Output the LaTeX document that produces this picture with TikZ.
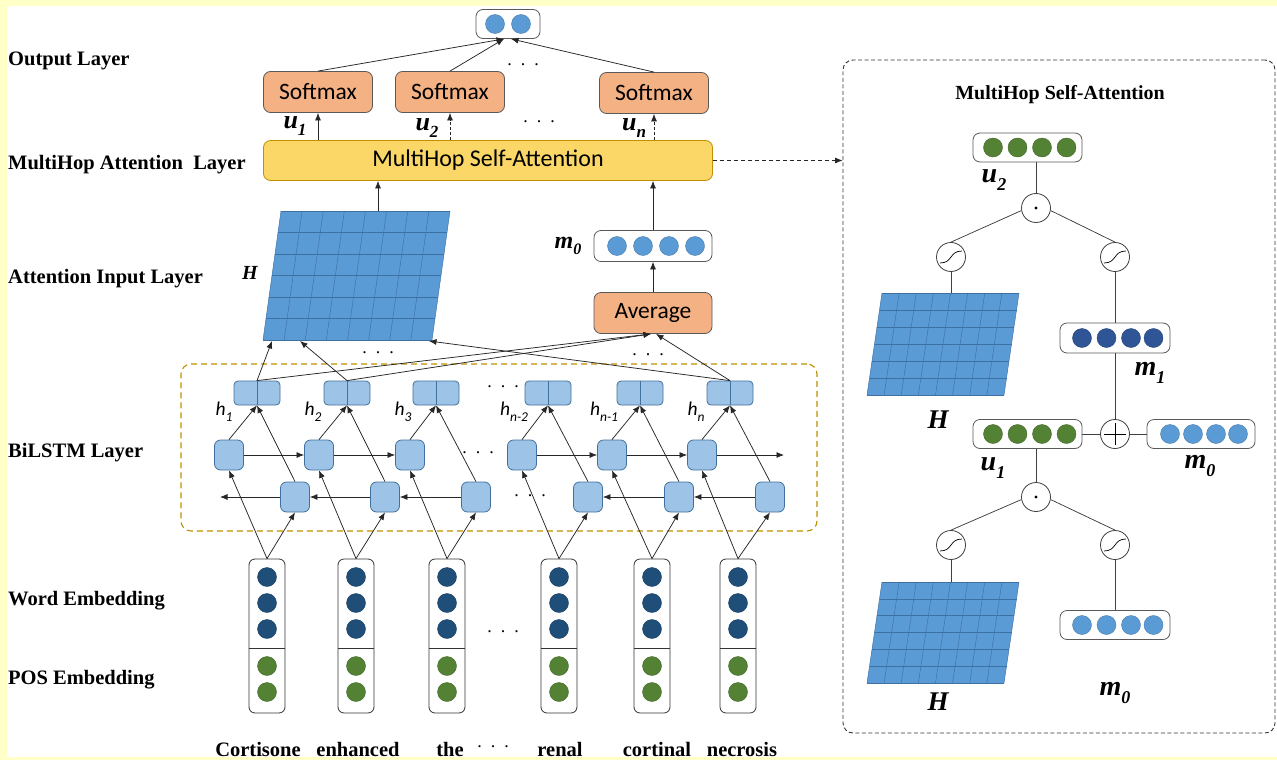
\documentclass[tikz,border=0pt]{standalone}
\usepackage{fontspec}
\setmainfont{Liberation Serif}
\newfontfamily\calfont{Carlito}
\usetikzlibrary{arrows.meta,calc}

\definecolor{bgyellow}{HTML}{FFFFC8}
\definecolor{boxline}{HTML}{595959}
\definecolor{softfill}{HTML}{F4B183}
\definecolor{attfill}{HTML}{FAD766}
\definecolor{attline}{HTML}{BF9000}
\definecolor{cellfill}{HTML}{9DC3E6}
\definecolor{cellline}{HTML}{41719C}
\definecolor{matfill}{HTML}{5B9BD5}
\definecolor{matline}{HTML}{3D70A3}
\definecolor{dotblue}{HTML}{5B9BD5}
\definecolor{darkblue}{HTML}{1F4E79}
\definecolor{midblue}{HTML}{2F5597}
\definecolor{leafgreen}{HTML}{548235}

% bold italic symbol with a subscript: base, subscript, size, subscript size
\newcommand\symlab[4]{{\fontsize{#3}{#3}\selectfont\bfseries\itshape #1\raisebox{-0.28em}{\fontsize{#4}{#4}\selectfont #2}}}
% hidden state label h_k
\newcommand\hlab[1]{{\calfont\itshape\fontsize{19.5}{19.5}\selectfont h\raisebox{-0.3em}{\fontsize{13.5}{13.5}\selectfont #1}}}

% slanted 8x6 grid: top-left x, top-left y, width, height, skew
\newcommand\gridmat[5]{%
  \fill[matfill] (#1,#2) -- (#1+#3,#2) -- (#1+#3-#5,#2+#4) -- (#1-#5,#2+#4) -- cycle;
  \foreach \i in {0,...,8}
    \draw[matline, line width=0.45pt] (#1+\i*#3/8,#2) -- (#1+\i*#3/8-#5,#2+#4);
  \foreach \j in {0,...,6}
    \draw[matline, line width=0.45pt] (#1-\j*#5/6,#2+\j*#4/6) -- (#1+#3-\j*#5/6,#2+\j*#4/6);
}

\begin{document}
\begin{tikzpicture}[x=1pt,y=-1pt,
  arr/.style={draw=black!85, line width=0.75pt, -{Latex[length=7.5pt,width=6pt]}},
  link/.style={draw=black!75, line width=0.75pt},
  layerlab/.style={anchor=west, inner sep=0pt, font=\bfseries\fontsize{20.5}{24}\selectfont},
  word/.style={inner sep=0pt, font=\bfseries\fontsize{20.5}{24}\selectfont},
  dots/.style={inner sep=0pt, font=\fontsize{18}{18}\selectfont},
  opbox/.style={draw=boxline, fill=softfill, rounded corners=7pt, line width=0.8pt,
    minimum width=109pt, minimum height=41pt, font=\calfont\fontsize{23.5}{26}\selectfont},
  attbox/.style={draw=attline, fill=attfill, rounded corners=7pt, line width=0.8pt,
    minimum width=449pt, minimum height=40pt, font=\calfont\fontsize{24}{26}\selectfont},
  vecbox/.style={draw=boxline, fill=white, rounded corners=7pt, line width=0.8pt},
  ball/.style={circle, inner sep=0pt, minimum size=19pt, fill=#1, draw=#1!80!black, line width=0.4pt},
  cell/.style={draw=cellline, fill=cellfill, rounded corners=6pt, line width=0.8pt,
    minimum width=29pt, minimum height=30pt},
  hbox/.style={draw=cellline, fill=cellfill, rounded corners=4pt, line width=0.8pt,
    minimum width=46pt, minimum height=24pt},
  embcol/.style={draw=black!80, fill=white, rounded corners=6pt, line width=0.8pt,
    minimum width=36pt, minimum height=154pt},
  opcirc/.style={circle, draw=black!75, fill=white, minimum size=29pt, inner sep=0pt, line width=0.8pt},
  dotop/.style={opcirc, path picture={\fill[black] (path picture bounding box.center) circle (1.7pt);}},
  plusop/.style={opcirc, path picture={\draw[black, line width=0.8pt]
      ([xshift=-11pt]path picture bounding box.center) -- ([xshift=11pt]path picture bounding box.center)
      ([yshift=-11pt]path picture bounding box.center) -- ([yshift=11pt]path picture bounding box.center);}},
  sigop/.style={opcirc, path picture={\draw[black, line width=0.7pt]
      ([shift={(-11pt,-6pt)}]path picture bounding box.center)
      .. controls ([shift={(2pt,-6pt)}]path picture bounding box.center)
      and ([shift={(-2pt,6pt)}]path picture bounding box.center)
      .. ([shift={(11pt,6pt)}]path picture bounding box.center);}}
]
\useasboundingbox (0,0) rectangle (1277,760);
\fill[bgyellow] (0,0) rectangle (1277,760);
\fill[white] (7,6) rectangle (1277,757);

% ---------- layer names ----------
\node[layerlab] (nout) at (8,61) {Output Layer};
\node[layerlab] (natt) at (8,165) {MultiHop Attention\ \ Layer};
\node[layerlab] (ninp) at (8,279) {Attention Input Layer};
\node[layerlab] (nbil) at (8,453) {BiLSTM Layer};
\node[layerlab] (nwrd) at (8,601) {Word Embedding};
\node[layerlab] (npos) at (8,680) {POS Embedding};

% ---------- output and attention ----------
\node[vecbox, minimum width=64pt, minimum height=29pt] (out) at (508,24) {};
\node[ball=dotblue] (o1) at (495,24) {};
\node[ball=dotblue] (o2) at (521,24) {};

\node[opbox] (s1) at (318,92) {Softmax};
\node[opbox] (s2) at (450,92) {Softmax};
\node[opbox] (s3) at (654,93) {Softmax};
\node[attbox] (mhsa) at (488,160.5) {MultiHop Self-Attention};

\draw[arr] (s1.north) -- ([xshift=-4pt]out.south);
\draw[arr] (s2.north) -- ([xshift=-4pt]out.south);
\draw[arr] (s3.north) -- ([xshift=3pt]out.south);
\node[dots] (dtop) at (523,65) {.\ \ .\ \ .};

\draw[arr] (mhsa.north -| s1.south) -- (s1.south);
\draw[arr, dash pattern=on 3pt off 2pt] (mhsa.north -| s2.south) -- (s2.south);
\draw[arr, dash pattern=on 3pt off 2pt] (mhsa.north -| s3.south) -- (s3.south);
\node (lu1) at (295,126) {\symlab{u}{1}{26}{17}};
\node (lu2) at (427,128) {\symlab{u}{2}{26}{17}};
\node (lun) at (634,128) {\symlab{u}{n}{26}{17}};
\node[dots] (dmid) at (539,122) {.\ \ .\ \ .};

% ---------- attention input ----------
\gridmat{281}{211}{169}{129}{18}
\coordinate (Htop) at (378,211);
\coordinate (Hb1) at (272,341);
\coordinate (Hb2) at (300,341);
\coordinate (Hb3) at (429,341);
\draw[arr] (Htop) -- (Htop |- mhsa.south);
\node (lH) at (250,273) {\fontsize{20}{20}\selectfont\bfseries\itshape H};

\node[vecbox, minimum width=118pt, minimum height=31pt] (m0) at (653,246) {};
\foreach \x [count=\c] in {617,643,669,695}
  \node[ball=dotblue] (m0c\c) at (\x,246) {};
\node[opbox, minimum width=118pt] (avg) at (653,313) {Average};
\draw[arr] (avg.north) -- (m0.south);
\draw[arr] (m0.north) -- (m0.north |- mhsa.south);
\node (lm0) at (568,246) {\symlab{m}{0}{24}{16}};
\node[dots] (dH) at (378,353) {.\ \ .\ \ .};
\node[dots] (dA) at (648,355) {.\ \ .\ \ .};

% ---------- BiLSTM ----------
\node[draw=attline, dash pattern=on 6pt off 4pt, line width=1.1pt, rounded corners=10pt,
  minimum width=636pt, minimum height=167pt] (bil) at (499,447.5) {};

\foreach \k/\fx/\bx/\hx in {1/229/295/257, 2/319/385/347, 3/410/476/436,
                            4/522/588/548, 5/612/679/640, 6/702/770/730} {
  \node[cell] (f\k) at (\fx,455) {};
  \node[cell] (b\k) at (\bx,497) {};
  \node[hbox] (h\k) at (\hx,393) {};
  \draw[cellline, line width=0.8pt] (h\k.north) -- (h\k.south);
}
\node (lh1) at (224,412) {\hlab{1}};
\node (lh2) at (313,412) {\hlab{2}};
\node (lh3) at (403,412) {\hlab{3}};
\node (lh4) at (514,412) {\hlab{n-2}};
\node (lh5) at (604,412) {\hlab{n-1}};
\node (lh6) at (696,412) {\hlab{n}};
\node[dots] (dh) at (503,387) {.\ \ .\ \ .};
\node[dots] (df) at (478,453) {.\ \ .\ \ .};
\node[dots] (db) at (530,496) {.\ \ .\ \ .};

\draw[arr] (f1) -- (f2);
\draw[arr] (f2) -- (f3);
\draw[arr] (f4) -- (f5);
\draw[arr] (f5) -- (f6);
\coordinate (fend) at (784,455);
\draw[arr] (f6) -- (fend);
\draw[arr] (b6) -- (b5);
\draw[arr] (b5) -- (b4);
\draw[arr] (b3) -- (b2);
\draw[arr] (b2) -- (b1);
\coordinate (bend) at (220,497);
\draw[arr] (b1) -- (bend);

% ---------- embeddings ----------
\foreach \k/\x in {1/267, 2/356, 3/447, 4/559, 5/652, 6/738} {
  \node[embcol] (e\k) at (\x,636) {};
  \draw[black!80, line width=0.8pt] (e\k.west |- 0,648) -- (e\k.east |- 0,648);
  \foreach \y [count=\c] in {577,603,629}
    \node[ball=darkblue] (e\k w\c) at (\x,\y) {};
  \foreach \y [count=\c] in {666,692}
    \node[ball=leafgreen] (e\k p\c) at (\x,\y) {};
  \draw[arr] (e\k.north) -- (f\k.south);
  \draw[arr] (e\k.north) -- (b\k.south);
  \draw[arr] (f\k.north) -- (h\k.south);
  \draw[arr] (b\k.north) -- (h\k.south);
}
\node[dots] (de) at (503,632) {.\ \ .\ \ .};

% hidden states into H and into the average
\draw[arr] (h1.north) -- (Hb1);
\draw[arr] (h2.north) -- (Hb2);
\draw[arr] (h6.north) -- (Hb3);
\draw[arr] (h1.north) -- ([xshift=-2pt]avg.south);
\draw[arr] (h2.north) -- ([xshift=-2pt]avg.south);
\draw[arr] (h6.north) -- ([xshift=3pt]avg.south);

% ---------- words ----------
\node[word] (w1) at (258,749) {Cortisone};
\node[word] (w2) at (358,749) {enhanced};
\node[word] (w3) at (450,749) {the};
\node[dots] (wd) at (493,747) {.\ \ .\ \ .};
\node[word] (w4) at (560,749) {renal};
\node[word] (w5) at (657,749) {cortinal};
\node[word] (w6) at (742,749) {necrosis};

% ---------- expanded multi-hop self-attention ----------
\node[draw=black!80, dash pattern=on 4pt off 2.5pt, line width=0.9pt, rounded corners=10pt,
  minimum width=432pt, minimum height=673pt] (panel) at (1059,396.5) {};
\draw[arr, dash pattern=on 4pt off 3pt] (mhsa.east) -- (mhsa.east -| panel.west);
\node[inner sep=0pt, font=\bfseries\fontsize{20}{24}\selectfont] (ptitle) at (1060,95) {MultiHop Self-Attention};

\node[vecbox, minimum width=109pt, minimum height=29pt] (u2) at (1027.5,147.5) {};
\foreach \x [count=\c] in {993,1017.5,1042,1066.5}
  \node[ball=leafgreen] (u2c\c) at (\x,147.5) {};
\node (lu2r) at (994,180) {\symlab{u}{2}{28}{18}};
\node[dotop] (dot1) at (1036,208) {};
\node[sigop] (sl1) at (951,257) {};
\node[sigop] (sr1) at (1115,257) {};
\draw[link] (dot1.north) -- (dot1.north |- u2.south);
\draw[link] (dot1.190) -- (sl1.north);
\draw[link] (dot1.-10) -- (sr1.north);
\gridmat{882}{293}{137}{102}{15}
\coordinate (H1top) at (951,293);
\draw[link] (sl1.south) -- (H1top);

\node[vecbox, minimum width=110pt, minimum height=30pt] (m1) at (1115,338) {};
\foreach \x [count=\c] in {1082,1106.5,1131,1153.5}
  \node[ball=midblue] (m1c\c) at (\x,338) {};
\node (lm1) at (1150,373) {\symlab{m}{1}{28}{18}};
\draw[link] (sr1.south) -- (m1.north);
\node (lH1) at (938,420) {\fontsize{27}{27}\selectfont\bfseries\itshape H};

\node[vecbox, minimum width=109pt, minimum height=29pt] (u1) at (1027.5,434) {};
\foreach \x [count=\c] in {993,1017.5,1042,1066.5}
  \node[ball=leafgreen] (u1c\c) at (\x,434) {};
\node[plusop] (plus) at (1115,434) {};
\node[vecbox, minimum width=108pt, minimum height=29pt] (m0r) at (1201,434) {};
\foreach \x [count=\c] in {1170,1193,1216,1238}
  \node[ball=dotblue] (m0rc\c) at (\x,434) {};
\draw[link] (m1.south) -- (plus.north);
\draw[link] (u1.east) -- (plus.west);
\draw[link] (plus.east) -- (m0r.west);
\node (lu1r) at (993,468) {\symlab{u}{1}{28}{18}};
\node (lm0r) at (1200,466) {\symlab{m}{0}{28}{18}};

\node[dotop] (dot2) at (1036,497) {};
\node[sigop] (sl2) at (951,545) {};
\node[sigop] (sr2) at (1115,545) {};
\draw[link] (dot2.north) -- (dot2.north |- u1.south);
\draw[link] (dot2.190) -- (sl2.north);
\draw[link] (dot2.-10) -- (sr2.north);
\gridmat{882}{582}{137}{101}{15}
\coordinate (H2top) at (951,582);
\draw[link] (sl2.south) -- (H2top);

\node[vecbox, minimum width=110pt, minimum height=29pt] (m0l) at (1115,625) {};
\foreach \x [count=\c] in {1082,1106.5,1131,1153.5}
  \node[ball=dotblue] (m0lc\c) at (\x,625) {};
\draw[link] (sr2.south) -- (m0l.north);
\node (lH2) at (938,702) {\fontsize{27}{27}\selectfont\bfseries\itshape H};
\node (lm0l) at (1115,693) {\symlab{m}{0}{28}{18}};
\end{tikzpicture}
\end{document}
